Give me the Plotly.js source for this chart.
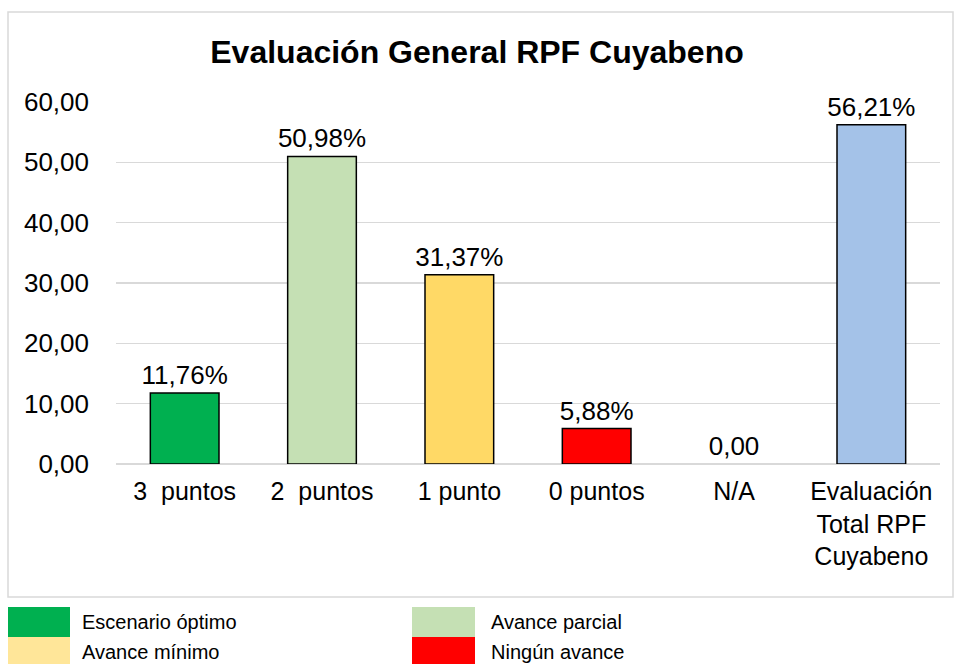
<!DOCTYPE html>
<html>
<head>
<meta charset="utf-8">
<script src="https://cdn.plot.ly/plotly-3.0.1.min.js"></script>
<style>html,body{margin:0;padding:0;background:#fff;}#chart{width:954px;height:664px;}</style>
</head>
<body>
<div id="chart"></div>
<script>
// Data
const categories = ['3\u00a0\u00a0puntos', '2\u00a0\u00a0puntos', '1 punto', '0 puntos', 'N/A', 'Evaluación<br>Total RPF<br>Cuyabeno'];
const values = [11.76, 50.98, 31.37, 5.88, 0, 56.21];
const valueLabels = ['11,76%', '50,98%', '31,37%', '5,88%', '0,00', '56,21%'];
const barColors = ['#00b050', '#c5e0b4', '#ffd966', '#ff0000', '#ffffff', '#a4c2e8'];
const barOutline = [1.5, 1.5, 1.5, 1.5, 0, 1.5];
const yTickVals = [0, 10, 20, 30, 40, 50, 60];
const legendLabels = ['Escenario óptimo', 'Avance parcial', 'Avance mínimo', 'Ningún avance'];
const legendColors = ['#00b050', '#c5e0b4', '#ffe699', '#ff0000'];

const FONT = 'Liberation Sans, Arial, sans-serif';

const trace = {
  type: 'bar',
  x: categories,
  y: values,
  text: valueLabels,
  textposition: 'outside',
  constraintext: 'none',
  textfont: {family: FONT, size: 26, color: '#000'},
  cliponaxis: false,
  marker: {color: barColors, line: {color: '#000', width: barOutline}},
  hoverinfo: 'none'
};

// legend geometry (paper coords)
const px = v => (v - 116) / 824;
const py = v => (464 - v) / 362;
const legendPos = [
  {x0: 8, x1: 70, y0: 607, y1: 637, tx: 80},
  {x0: 412, x1: 475, y0: 607, y1: 637, tx: 489},
  {x0: 8, x1: 70, y0: 637, y1: 666, tx: 80},
  {x0: 412, x1: 475, y0: 637, y1: 666, tx: 489}
];

const shapes = [{
  type: 'rect', xref: 'paper', yref: 'paper',
  x0: px(8), x1: px(953), y0: py(12), y1: py(597),
  line: {color: '#d9d9d9', width: 1.5}, fillcolor: 'rgba(0,0,0,0)', layer: 'below'
}];
const annotations = [];
legendLabels.forEach((lab, i) => {
  const p = legendPos[i];
  shapes.push({type: 'rect', xref: 'paper', yref: 'paper',
    x0: px(p.x0), x1: px(p.x1), y0: py(p.y0), y1: py(p.y1),
    line: {width: 0}, fillcolor: legendColors[i]});
  annotations.push({xref: 'paper', yref: 'paper', x: px(p.tx), y: py((p.y0 + p.y1) / 2),
    xanchor: 'left', yanchor: 'middle', text: lab, showarrow: false,
    font: {family: FONT, size: 20, color: '#000'}});
});

const layout = {
  width: 954, height: 664,
  margin: {l: 116, r: 14, t: 102, b: 200},
  paper_bgcolor: '#fff', plot_bgcolor: '#fff',
  separators: ',.',
  title: {text: '<b>Evaluación General RPF Cuyabeno</b>', x: 0.5, xanchor: 'center',
    y: 1 - 52 / 664, yanchor: 'middle', font: {family: FONT, size: 32, color: '#000'}},
  bargap: 0.5,
  showlegend: false,
  xaxis: {
    type: 'category', showgrid: false, zeroline: false, showline: false,
    tickfont: {family: FONT, size: 25, color: '#000'}, ticks: '', ticklabelstandoff: 10,
    fixedrange: true
  },
  yaxis: {
    range: [0, 60], tickvals: yTickVals, tickformat: '.2f',
    gridcolor: '#d9d9d9', gridwidth: 1.5, zeroline: true, zerolinecolor: '#d9d9d9', zerolinewidth: 1.5,
    showline: false, ticks: '', ticklabelstandoff: 26,
    tickfont: {family: FONT, size: 26, color: '#000'}, fixedrange: true
  },
  shapes: shapes,
  annotations: annotations
};

Plotly.newPlot('chart', [trace], layout, {displayModeBar: false, staticPlot: true});
</script>
</body>
</html>
